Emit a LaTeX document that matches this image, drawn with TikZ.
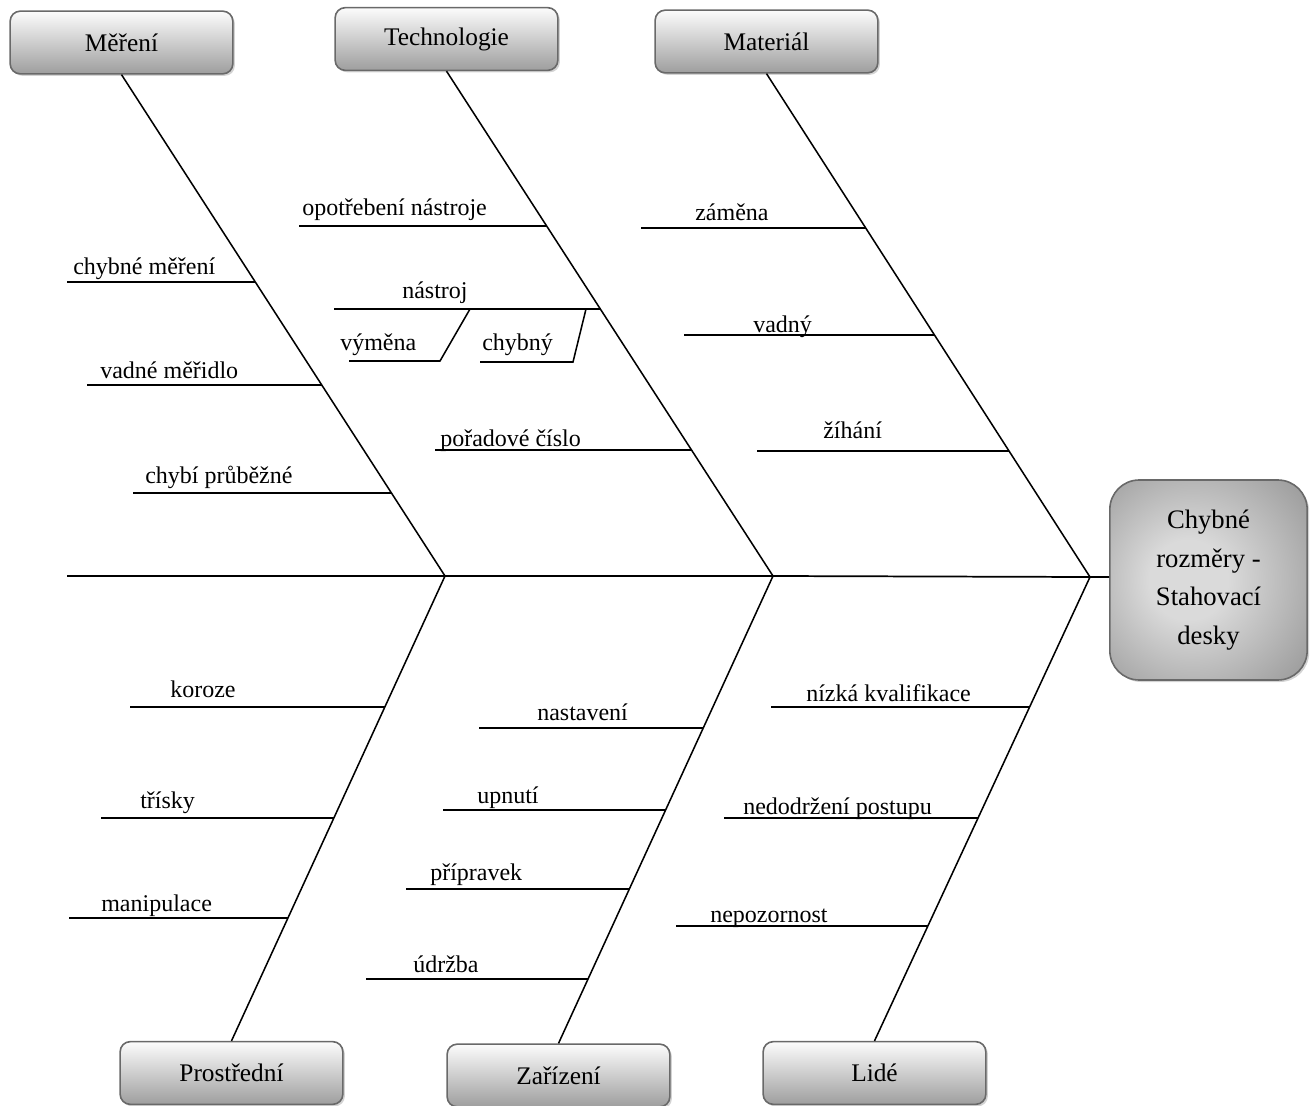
\documentclass[tikz,border=0pt]{standalone}
\usepackage{fontspec}
\setmainfont{Liberation Serif}
\usetikzlibrary{calc,shadows}
\definecolor{BoxLine}{RGB}{105,105,105}
\definecolor{BoxTop}{RGB}{252,252,252}
\definecolor{BoxBot}{RGB}{158,158,158}
\definecolor{EffIn}{RGB}{218,218,218}
\definecolor{EffMid}{RGB}{150,150,150}
\definecolor{EffOut}{RGB}{85,85,85}
\pgfdeclareradialshading{effshade}{\pgfpoint{-6bp}{0bp}}{%
  color(0bp)=(EffIn); color(10bp)=(EffIn); color(38bp)=(EffMid); color(66bp)=(EffOut)}
\tikzset{
  nd_cat/.style={
    rectangle, rounded corners=7.5pt,
    draw=BoxLine, line width=1.2pt,
    top color=BoxTop, bottom color=BoxBot,
    minimum width=167pt, minimum height=47pt,
    font=\fontsize{19}{23}\selectfont,
    drop shadow={shadow xshift=1.5pt, shadow yshift=-1.5pt, opacity=0.35}},
  nd_eff/.style={
    rectangle, rounded corners=22pt,
    draw=BoxLine, line width=1.2pt,
    shading=effshade,
    minimum width=148pt, minimum height=150pt,
    align=center, font=\fontsize{20}{29}\selectfont,
    drop shadow={shadow xshift=1.5pt, shadow yshift=-1.5pt, opacity=0.35}},
  spine/.style={line width=1.3pt},
  bone/.style={line width=1.15pt},
  twig/.style={line width=1.15pt},
  lbl/.style={anchor=base west, inner sep=0pt, font=\fontsize{18}{22}\selectfont},
}

\begin{document}
\begin{tikzpicture}[x=0.75pt,y=-0.75pt]
\useasboundingbox (0,0) rectangle (1311,1106);

% category boxes and effect
\node[nd_cat] (mer) at (121.5,42.5) {Měření};
\node[nd_cat] (tec) at (446.5,39) {Technologie};
\node[nd_cat] (mat) at (766.5,41.5) {Materiál};
\node[nd_cat] (pro) at (231.5,1073) {Prostřední};
\node[nd_cat] (zar) at (558.5,1075.5) {Zařízení};
\node[nd_cat] (lid) at (874.5,1073) {Lidé};
\node[nd_eff] (eff) at (1208.5,580) {Chybné\\rozměry -\\Stahovací\\desky};

% spine
\coordinate (tail) at (67,576);
\coordinate (h1) at (445,576);
\coordinate (h2) at (773,576);
\coordinate (h3) at (1090,577);
\draw[spine] (tail) -- (h1) -- (h2) -- (h3) -- (h3 -| eff.west);

% bones
\draw[bone] (mer.south) -- (h1) -- (pro.north);
\draw[bone] (tec.south) -- (h2) -- (zar.north);
\draw[bone] (mat.south) -- (h3) -- (lid.north);

% Mereni
\foreach \i/\y/\xe/\xl/\yl/\txt in {
  1/282/67/73/274/{chybné měření},
  2/385/87/100/378/{vadné měřidlo},
  3/493/133/145/483/{chybí průběžné}}{
  \coordinate (m\i) at (intersection of mer.south--h1 and 0,\y--10,\y);
  \draw[twig] (m\i) -- (m\i -| \xe,0);
  \node[lbl] (ml\i) at (\xl,\yl) {\txt};
}

% Technologie
\foreach \i/\y/\xe/\xl/\yl/\txt in {
  1/226/299/302/215/{opotřebení nástroje},
  2/309/334/402/298/{nástroj},
  3/450/435/440/446/{pořadové číslo}}{
  \coordinate (t\i) at (intersection of tec.south--h2 and 0,\y--10,\y);
  \draw[twig] (t\i) -- (t\i -| \xe,0);
  \node[lbl] (tl\i) at (\xl,\yl) {\txt};
}
\coordinate (s1) at (t2 -| 470,0);
\coordinate (s2) at (t2 -| 586,0);
\draw[twig] (s1) -- (440,361) -- (349,361);
\draw[twig] (s2) -- (573,362) -- (480,362);
\node[lbl] (sl1) at (340,350) {výměna};
\node[lbl] (sl2) at (482,350) {chybný};

% Material
\foreach \i/\y/\xe/\xl/\yl/\txt in {
  1/228/641/695/220/{záměna},
  2/335/684/753/332/{vadný},
  3/451/757/823/438/{žíhání}}{
  \coordinate (a\i) at (intersection of mat.south--h3 and 0,\y--10,\y);
  \draw[twig] (a\i) -- (a\i -| \xe,0);
  \node[lbl] (al\i) at (\xl,\yl) {\txt};
}

% Prostredni
\foreach \i/\y/\xe/\xl/\yl/\txt in {
  1/707/130/170/697/{koroze},
  2/818/101/140/808/{třísky},
  3/918/69/101/911/{manipulace}}{
  \coordinate (p\i) at (intersection of pro.north--h1 and 0,\y--10,\y);
  \draw[twig] (p\i) -- (p\i -| \xe,0);
  \node[lbl] (pl\i) at (\xl,\yl) {\txt};
}

% Zarizeni
\foreach \i/\y/\xe/\xl/\yl/\txt in {
  1/728/479/537/720/{nastavení},
  2/810/443/477/803/{upnutí},
  3/889/406/430/880/{přípravek},
  4/979/366/413/972/{údržba}}{
  \coordinate (z\i) at (intersection of zar.north--h2 and 0,\y--10,\y);
  \draw[twig] (z\i) -- (z\i -| \xe,0);
  \node[lbl] (zl\i) at (\xl,\yl) {\txt};
}

% Lide
\foreach \i/\y/\xe/\xl/\yl/\txt in {
  1/707/771/806/701/{nízká kvalifikace},
  2/818/724/743/814/{nedodržení postupu},
  3/926/676/710/922/{nepozornost}}{
  \coordinate (l\i) at (intersection of lid.north--h3 and 0,\y--10,\y);
  \draw[twig] (l\i) -- (l\i -| \xe,0);
  \node[lbl] (ll\i) at (\xl,\yl) {\txt};
}
\end{tikzpicture}
\end{document}
